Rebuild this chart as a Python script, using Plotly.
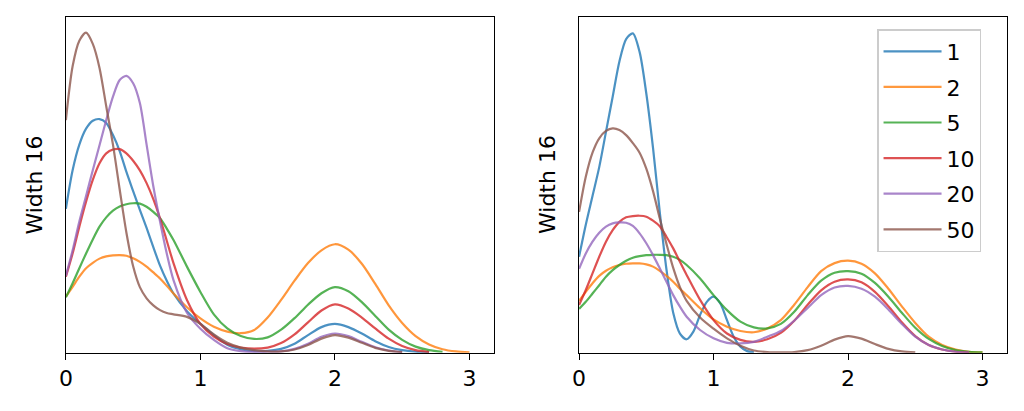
import plotly.graph_objects as go

# ---------------- data ----------------
X_GRID = [0.0, 0.05, 0.1, 0.15, 0.2, 0.25, 0.3, 0.35, 0.4, 0.45, 0.5, 0.55, 0.6, 0.65,
          0.7, 0.75, 0.8, 0.9, 1.0, 1.1, 1.2, 1.3, 1.4, 1.5, 1.6, 1.7, 1.8, 1.9, 2.0,
          2.1, 2.2, 2.3, 2.4, 2.5, 2.6, 2.7, 2.8, 2.9, 3.0]
X_FINE = [0.0, 0.05, 0.1, 0.15, 0.2, 0.25, 0.3, 0.35, 0.4, 0.45, 0.5, 0.55, 0.6, 0.65,
          0.7, 0.75, 0.8, 0.85, 0.9, 0.95, 1.0, 1.05, 1.1, 1.15, 1.2, 1.25, 1.3]

SERIES = ["1", "2", "5", "10", "20", "50"]
COLORS = ["#1f77b4", "#ff7f0e", "#2ca02c", "#d62728", "#9467bd", "#8c564b"]

# left panel
L_1 = [0.45, 0.57, 0.65, 0.70, 0.725, 0.73, 0.718, 0.68, 0.63, 0.565, 0.505, 0.446, 0.39,
       0.33, 0.272, 0.225, 0.185, 0.13, 0.09, 0.055, 0.025, 0.011, 0.005, 0.006, 0.012,
       0.028, 0.055, 0.08, 0.09, 0.08, 0.06, 0.036, 0.018, 0.008, 0.003, 0.001]
L_2 = [0.175, 0.206, 0.2375, 0.264, 0.281, 0.294, 0.301, 0.304, 0.305, 0.303, 0.295, 0.284,
       0.269, 0.251, 0.232, 0.209, 0.185, 0.142, 0.107, 0.081, 0.066, 0.061, 0.071, 0.11,
       0.165, 0.225, 0.28, 0.32, 0.339, 0.322, 0.278, 0.215, 0.148, 0.093, 0.052, 0.026,
       0.011, 0.004, 0.001]
L_5 = [0.173, 0.217, 0.264, 0.31, 0.354, 0.394, 0.423, 0.444, 0.457, 0.464, 0.467, 0.466,
       0.456, 0.44, 0.42, 0.388, 0.352, 0.269, 0.19, 0.12, 0.076, 0.052, 0.043, 0.048,
       0.072, 0.108, 0.15, 0.186, 0.205, 0.192, 0.158, 0.115, 0.072, 0.04, 0.019, 0.008,
       0.003]
L_10 = [0.2375, 0.31, 0.394, 0.472, 0.54, 0.592, 0.623, 0.635, 0.636, 0.623, 0.6, 0.57,
        0.53, 0.48, 0.42, 0.35, 0.28, 0.165, 0.09, 0.05, 0.027, 0.016, 0.0125, 0.016,
        0.03, 0.057, 0.095, 0.132, 0.151, 0.138, 0.11, 0.076, 0.044, 0.021, 0.008, 0.002]
L_20 = [0.24, 0.32, 0.41, 0.49, 0.57, 0.648, 0.727, 0.8, 0.852, 0.865, 0.842, 0.78, 0.65,
        0.52, 0.41, 0.31, 0.227, 0.125, 0.075, 0.04, 0.014, 0.005, 0.002, 0.003, 0.004,
        0.012, 0.028, 0.05, 0.06, 0.052, 0.034, 0.017, 0.007, 0.002]
L_50 = [0.727, 0.895, 0.975, 1.0, 0.965, 0.89, 0.77, 0.65, 0.51, 0.375, 0.27, 0.205, 0.17,
        0.148, 0.133, 0.124, 0.12, 0.112, 0.09, 0.057, 0.031, 0.016, 0.008, 0.004, 0.004,
        0.01, 0.024, 0.044, 0.055, 0.047, 0.031, 0.015, 0.006, 0.002]

# right panel ("1" uses the finer grid)
R_1 = [0.30, 0.40, 0.49, 0.58, 0.69, 0.80, 0.91, 0.98, 0.998, 0.94, 0.81, 0.64, 0.44,
       0.26, 0.125, 0.06, 0.042, 0.066, 0.118, 0.159, 0.175, 0.154, 0.102, 0.05, 0.019,
       0.005, 0.001]
R_2 = [0.162, 0.19, 0.217, 0.24, 0.256, 0.267, 0.274, 0.278, 0.279, 0.279, 0.276, 0.269,
       0.256, 0.24, 0.222, 0.2, 0.18, 0.139, 0.104, 0.081, 0.068, 0.064, 0.076, 0.102,
       0.15, 0.205, 0.255, 0.28, 0.2875, 0.278, 0.248, 0.2, 0.145, 0.093, 0.05, 0.024,
       0.01, 0.003, 0.001]
R_5 = [0.137, 0.159, 0.185, 0.211, 0.2375, 0.258, 0.274, 0.2875, 0.297, 0.302, 0.305,
       0.306, 0.306, 0.305, 0.3, 0.29, 0.274, 0.232, 0.18, 0.133, 0.097, 0.079, 0.076,
       0.09, 0.128, 0.18, 0.225, 0.25, 0.255, 0.247, 0.218, 0.175, 0.125, 0.078, 0.043,
       0.021, 0.008, 0.003, 0.001]
R_10 = [0.149, 0.196, 0.248, 0.3, 0.347, 0.383, 0.409, 0.423, 0.427, 0.428, 0.425, 0.4125,
        0.395, 0.3625, 0.326, 0.284, 0.243, 0.165, 0.102, 0.06, 0.04, 0.034, 0.042, 0.062,
        0.1, 0.15, 0.195, 0.222, 0.229, 0.22, 0.19, 0.145, 0.095, 0.052, 0.024, 0.01,
        0.003, 0.001]
R_20 = [0.262, 0.31, 0.347, 0.375, 0.394, 0.404, 0.407, 0.406, 0.396, 0.373, 0.342, 0.305,
        0.264, 0.222, 0.18, 0.144, 0.1125, 0.071, 0.045, 0.031, 0.029, 0.034, 0.05, 0.068,
        0.1, 0.14, 0.18, 0.204, 0.209, 0.2, 0.175, 0.135, 0.09, 0.05, 0.024, 0.01, 0.003,
        0.001]
R_50 = [0.44, 0.55, 0.625, 0.67, 0.693, 0.701, 0.696, 0.68, 0.655, 0.625, 0.575, 0.505,
        0.42, 0.34, 0.265, 0.205, 0.162, 0.11, 0.075, 0.045, 0.022, 0.007, 0.002, 0.001,
        0.002, 0.008, 0.022, 0.041, 0.052, 0.044, 0.027, 0.012, 0.004, 0.001]

LEFT = [L_1, L_2, L_5, L_10, L_20, L_50]
RIGHT = [R_1, R_2, R_5, R_10, R_20, R_50]

X_TICKS = [0, 1, 2, 3]
Y_LABEL = "Width 16"

# ---------------- figure ----------------
FONT = "DejaVu Sans"
fig = go.Figure()

for i, (name, ys) in enumerate(zip(SERIES, LEFT)):
    fig.add_trace(go.Scatter(
        x=X_GRID[:len(ys)], y=ys, mode="lines", name=name, showlegend=False,
        line=dict(color=COLORS[i], width=2.2, shape="spline", smoothing=0.8),
        opacity=0.8, xaxis="x", yaxis="y"))

for i, (name, ys) in enumerate(zip(SERIES, RIGHT)):
    xs = X_FINE if name == "1" else X_GRID[:len(ys)]
    fig.add_trace(go.Scatter(
        x=xs, y=ys, mode="lines", name=name, legendgroup=name,
        line=dict(color=COLORS[i], width=2.2, shape="spline", smoothing=0.8),
        opacity=0.8, xaxis="x2", yaxis="y2"))

axis_common = dict(showgrid=False, zeroline=False, showline=True, linecolor="black",
                   linewidth=1.3, mirror=True)
xax = dict(axis_common, range=[0, 3.18], tickmode="array", tickvals=X_TICKS,
           ticks="outside", ticklen=6, tickwidth=1.3, tickcolor="black",
           tickfont=dict(family=FONT, size=22, color="black"))
yax = dict(axis_common, range=[0, 1.05], showticklabels=False, ticks="")

fig.update_layout(
    width=1024, height=411,
    margin=dict(l=0, r=0, t=0, b=0),
    paper_bgcolor="white", plot_bgcolor="white",
    font=dict(family=FONT, size=22, color="black"),
    xaxis=dict(xax, domain=[0.0579, 0.4785], anchor="y"),
    yaxis=dict(yax, domain=[0.1418, 0.9594], anchor="x"),
    xaxis2=dict(xax, domain=[0.5625, 0.983], anchor="y2"),
    yaxis2=dict(yax, domain=[0.1418, 0.9594], anchor="x2"),
    legend=dict(x=0.8555, y=0.9294, xanchor="left", yanchor="top",
                bgcolor="rgba(255,255,255,0.8)", bordercolor="#cccccc", borderwidth=1.5,
                font=dict(family=FONT, size=22, color="black"),
                itemwidth=58, traceorder="grouped", tracegroupgap=4,
                entrywidth=50, entrywidthmode="pixels"),
    annotations=[
        dict(text=Y_LABEL, x=28 / 1024, y=0.5506, xref="paper", yref="paper",
             xanchor="center", yanchor="middle",
             textangle=-90, showarrow=False, font=dict(family=FONT, size=22)),
        dict(text=Y_LABEL, x=544 / 1024, y=0.5506, xref="paper", yref="paper",
             xanchor="center", yanchor="middle",
             textangle=-90, showarrow=False, font=dict(family=FONT, size=22)),
    ],
)

fig.write_html(
    "out.html",
    config={"displayModeBar": False},
    post_script="document.body.style.margin='0';document.body.style.overflow='hidden';",
)
